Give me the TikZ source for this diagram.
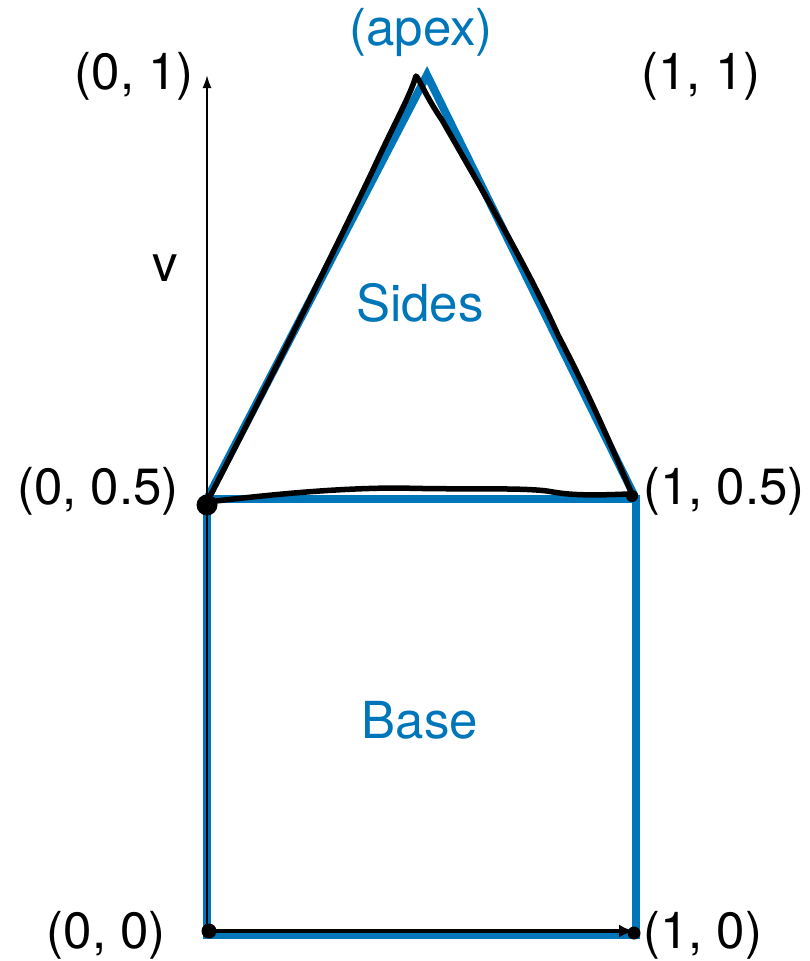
\documentclass[tikz,border=0pt]{standalone}
\usepackage{fontspec}
\setmainfont{TeX Gyre Heros}
\usetikzlibrary{arrows.meta}
\definecolor{kblue}{RGB}{0,118,186}
\begin{document}
\begin{tikzpicture}[x=1pt,y=-1pt,
  bluestroke/.style={draw=kblue,line width=8pt,line join=miter},
  hand/.style={draw=black,line width=5.5pt,line cap=round,line join=round},
  lbl/.style={font=\fontsize{51}{51}\selectfont,inner sep=0pt},
  bluelbl/.style={lbl,text=kblue},
  dotk/.style={circle,fill=black,inner sep=0pt}]
\useasboundingbox (0,0) rectangle (810,961);
% key points
\coordinate (A) at (207,499);
\coordinate (B) at (636,499);
\coordinate (C) at (636,935);
\coordinate (D) at (207,935);
\coordinate (P) at (427,75);
\coordinate (top) at (207,75);
% blue shapes
\draw[bluestroke] (D) -- (A) -- (B) -- (C) -- cycle;
\draw[bluestroke] (A) -- (P) -- (B);
% axes
\draw[black,line width=2pt,-{Latex[length=13pt,width=9pt]}] (D) -- (top);
\coordinate (Ds) at (209,931);
\coordinate (Cs) at (634,931);
\draw[black,line width=3.5pt,-{Latex[length=15pt,width=13pt]}] (Ds) -- (Cs);
\node[dotk,minimum size=15pt] (d0) at (Ds) {};
\node[dotk,minimum size=13pt] (d1) at (634,933) {};
% hand-drawn triangle
\draw[hand] (207,502) .. controls (260,400) and (330,260) .. (372,172)
  .. controls (395,122) and (410,96) .. (416,76)
  .. controls (420,80) and (425,95) .. (442,120)
  .. controls (482,190) and (528,268) .. (558,335)
  .. controls (592,400) and (612,448) .. (632,494)
  .. controls (620,494) and (580,497) .. (553,492)
  .. controls (528,487) and (470,490) .. (400,488)
  .. controls (330,488) and (260,496) .. (207,502);
\node[dotk,minimum size=21pt] (d2) at (207,505) {};
\node[dotk,minimum size=12pt] (d3) at (632,496) {};
% labels
\node[bluelbl] (apex) at (421,32) {(apex)};
\node[lbl,anchor=east] (l01) at (194,76) {(0, 1)};
\node[lbl] (l11) at (701,76) {(1, 1)};
\node[lbl] (v) at (165,268) {v};
\node[bluelbl] (sides) at (420,303) {Sides};
\node[lbl,anchor=east] (l005) at (179,491) {(0, 0.5)};
\node[lbl,anchor=west] (l105) at (643,491) {(1, 0.5)};
\node[bluelbl] (base) at (420,720) {Base};
\node[lbl,anchor=east] (l00) at (166,935) {(0, 0)};
\node[lbl,anchor=west] (l10) at (643,935) {(1, 0)};
\end{tikzpicture}
\end{document}
